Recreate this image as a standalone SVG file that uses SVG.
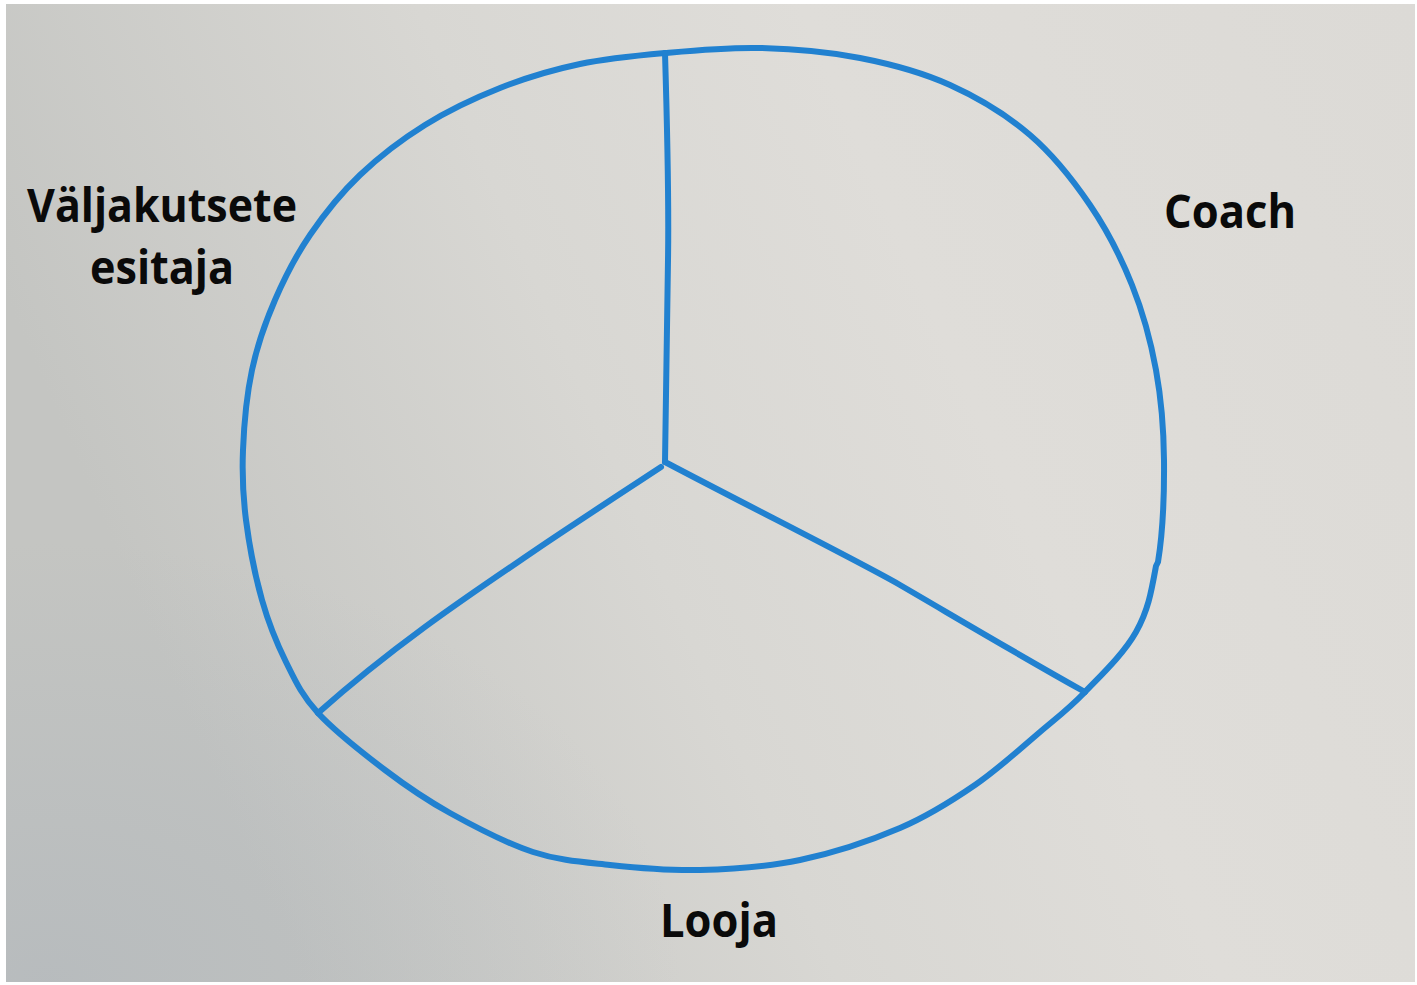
<svg xmlns="http://www.w3.org/2000/svg" width="1417" height="985" viewBox="0 0 1417 985">
<defs>
<linearGradient id="bg" x1="0" y1="0.3" x2="1" y2="0">
<stop offset="0" stop-color="#c4c5c2"/>
<stop offset="0.35" stop-color="#d8d7d3"/>
<stop offset="0.6" stop-color="#dfddd9"/>
<stop offset="1" stop-color="#dcdad6"/>
</linearGradient>
<radialGradient id="shade" cx="0.03" cy="1" r="0.45">
<stop offset="0" stop-color="#a8b0b8" stop-opacity="0.45"/>
<stop offset="1" stop-color="#a8b0b8" stop-opacity="0"/>
</radialGradient>
<style>
.pen{fill:none;stroke:#2181d0;stroke-width:6;stroke-linecap:round;stroke-linejoin:round}
.lbl{font-family:"Open Sans","Noto Sans","Liberation Sans",sans-serif;font-weight:700;font-size:46px;fill:#0a0a0a;text-anchor:middle}
</style>
</defs>
<rect width="1417" height="985" fill="#ffffff"/>
<rect x="6" y="4" width="1409" height="978" fill="url(#bg)"/>
<rect x="6" y="4" width="1409" height="978" fill="url(#shade)"/>
<g id="connectors">
<path id="outline" class="pen" d="M665,53 C695,50.3 727.5,47.2 760,48 C792.5,48.8 828.3,51.8 860,58 C891.7,64.2 921.7,72.2 950,85 C978.3,97.8 1006.7,115 1030,135 C1053.3,155 1073,180 1090,205 C1107,230 1121,257.5 1132,285 C1143,312.5 1150.7,340.8 1156,370 C1161.3,399.2 1163.7,428 1164,460 C1164.3,492 1162.7,533.3 1158,562 L1156,566 C1151.3,592 1148.2,610.3 1136,632 C1123.8,653.7 1101,675.3 1085,692 C1069,708.7 1058.3,716.5 1040,732 C1021.7,747.5 998.3,769 975,785 C951.7,801 929.2,815.5 900,828 C870.8,840.5 833.3,853 800,860 C766.7,867 731.7,869.2 700,870 C668.3,870.8 637.8,868 610,865 C582.2,862 559.7,860.7 533,852 C506.3,843.3 474.7,826.7 450,813 C425.3,799.3 407,786.7 385,770 C363,753.3 334.5,731 318,713 C301.5,695 295.3,680.8 286,662 C276.7,643.2 268.7,623.7 262,600 C255.3,576.3 249.2,545 246,520 C242.8,495 242,475 243,450 C244,425 246.7,395 252,370 C257.3,345 265.3,322.5 275,300 C284.7,277.5 295.8,255.8 310,235 C324.2,214.2 340.8,193.3 360,175 C379.2,156.7 401.7,139.5 425,125 C448.3,110.5 474.2,98.2 500,88 C525.8,77.8 552.5,69.8 580,64 C607.5,58.2 635,55.7 665,53 Z"/>
<path id="spoke-top" class="pen" d="M665,53 C667,120 669,200 668,260 C667,330 666,400 665,462"/>
<path id="spoke-right" class="pen" d="M665,462 C760,512 860,562 900,585 C950,614 1010,650 1085,692"/>
<path id="spoke-left" class="pen" d="M661,467 C620,494 580,520 540,547 C480,588 400,640 318,713"/>
</g>
<g id="label-valjakutsete">
<text class="lbl" x="162" y="222" textLength="270" lengthAdjust="spacingAndGlyphs">Väljakutsete</text>
<text class="lbl" x="162" y="284" textLength="144" lengthAdjust="spacingAndGlyphs">esitaja</text>
</g>
<g id="label-coach">
<text class="lbl" x="1230" y="228" textLength="132" lengthAdjust="spacingAndGlyphs">Coach</text>
</g>
<g id="label-looja">
<text class="lbl" x="719" y="937" textLength="118" lengthAdjust="spacingAndGlyphs">Looja</text>
</g>
</svg>
